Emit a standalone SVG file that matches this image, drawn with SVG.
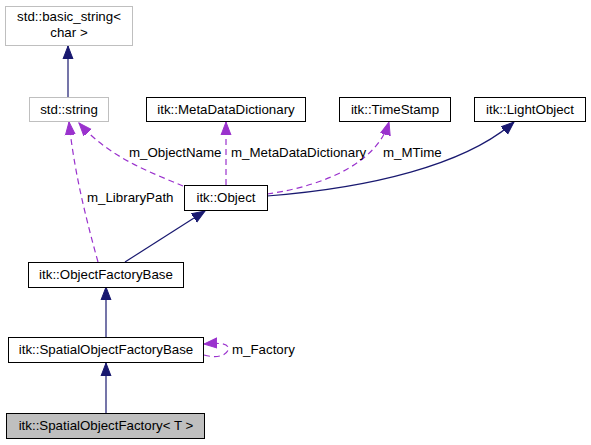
<svg xmlns="http://www.w3.org/2000/svg" width="591" height="445" viewBox="0 0 591 445">
<style>
text{font-family:"Liberation Sans",Arial,sans-serif;font-size:13.3px;fill:#000}
.n{text-anchor:middle}
.box{fill:#fff;stroke:#000;stroke-width:1}
.gbox{fill:#fff;stroke:#bfbfbf;stroke-width:1}
.sel{fill:#bfbfbf;stroke:#000;stroke-width:1}
.inh{fill:none;stroke:#191970;stroke-width:1.2}
.use{fill:none;stroke:#9a32cd;stroke-width:1.2;stroke-dasharray:6,4}
</style>
<defs>
<marker id="an" markerWidth="14" markerHeight="12" refX="13" refY="6" orient="auto" markerUnits="userSpaceOnUse"><path d="M0,1 L13,6 L0,11 z" fill="#191970" stroke="#191970"/></marker>
<marker id="ap" markerWidth="14" markerHeight="12" refX="13" refY="6" orient="auto" markerUnits="userSpaceOnUse"><path d="M0,1 L13,6 L0,11 z" fill="#9a32cd" stroke="#9a32cd"/></marker>
</defs>
<g id="connectors">
<path class="inh" d="M68,97 L68,46" marker-end="url(#an)"/>
<path class="use" d="M183,186 C150,172 110,158 79,123" marker-end="url(#ap)"/>
<path class="use" d="M226,185 L226,122" marker-end="url(#ap)"/>
<path class="use" d="M267,194 C330,185 378,160 389,122" marker-end="url(#ap)"/>
<path class="inh" d="M267,196 C370,188 465,165 514,122" marker-end="url(#an)"/>
<path class="use" d="M98,262 C85,215 74,170 69,122" marker-end="url(#ap)"/>
<path class="inh" d="M125,262 L205,211" marker-end="url(#an)"/>
<path class="inh" d="M106,337 L106,287" marker-end="url(#an)"/>
<path class="inh" d="M106,413 L106,363" marker-end="url(#an)"/>
<path class="use" d="M204,355 C222,360 230,352 228,347 C226,343 218,343 204,344" marker-end="url(#ap)"/>
<text x="129" y="157">m_ObjectName</text>
<text x="231" y="157">m_MetaDataDictionary</text>
<text x="383" y="157">m_MTime</text>
<text x="87" y="202">m_LibraryPath</text>
<text x="232" y="354">m_Factory</text>
</g>
<g id="basic_string"><rect class="gbox" x="5.5" y="6.5" width="127" height="39"/><text class="n" x="69" y="21">std::basic_string&lt;</text><text class="n" x="69" y="37">char &gt;</text></g>
<g id="std_string"><rect class="gbox" x="29.5" y="97.5" width="79" height="24"/><text class="n" x="69" y="114">std::string</text></g>
<g id="MetaDataDictionary"><rect class="box" x="146.5" y="97.5" width="159" height="24"/><text class="n" x="226" y="114">itk::MetaDataDictionary</text></g>
<g id="TimeStamp"><rect class="box" x="339.5" y="97.5" width="111" height="24"/><text class="n" x="395" y="114">itk::TimeStamp</text></g>
<g id="LightObject"><rect class="box" x="474.5" y="97.5" width="111" height="24"/><text class="n" x="530" y="114">itk::LightObject</text></g>
<g id="Object"><rect class="box" x="184.5" y="185.5" width="83" height="25"/><text class="n" x="226" y="202">itk::Object</text></g>
<g id="ObjectFactoryBase"><rect class="box" x="28.5" y="262.5" width="155" height="25"/><text class="n" x="106" y="279">itk::ObjectFactoryBase</text></g>
<g id="SpatialObjectFactoryBase"><rect class="box" x="8.5" y="337.5" width="195" height="25"/><text class="n" x="106" y="354">itk::SpatialObjectFactoryBase</text></g>
<g id="SpatialObjectFactory"><rect class="sel" x="6.5" y="413.5" width="198" height="25"/><text class="n" x="106" y="430">itk::SpatialObjectFactory&lt; T &gt;</text></g>
</svg>
